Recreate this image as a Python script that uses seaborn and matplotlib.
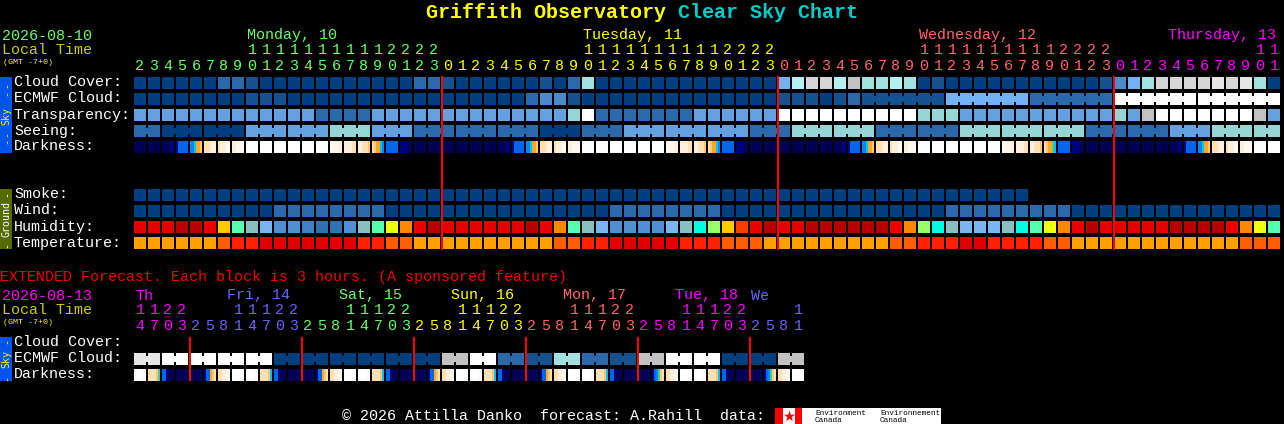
import numpy as np
import matplotlib
matplotlib.use("Agg")
import matplotlib.pyplot as plt
from matplotlib.colors import ListedColormap
from matplotlib.patches import Rectangle
import seaborn as sns

# ---------- data ----------
hours_main = ([h for h in range(2, 24)] + list(range(24)) + list(range(24)) + list(range(12)))
hours_ext = [14, 17, 20, 23] + [2, 5, 8, 11, 14, 17, 20, 23] * 5 + [2, 5, 8, 11]

cloud_cover = [0]*6 + [2, 2, 1] + [0]*11 + [2, 2, 1] + [0]*6 + [1, 0, 2, 7] + [0]*13 + \
    [5, 8, 10, 10, 8, 9, 7, 7, 8, 7, 0, 1] + [0]*11 + [1, 3, 5, 7, 10, 10, 10, 10, 11, 10, 11, 7, 0]
ecmwf_single = [0]*8 + [1, 1, 1] + [0]*17 + [2, 3, 3, 1] + [0]*14 + [1, 1, 1, 0, 1, 2]
ecmwf_six = [1, 5, 2, 12, 12]
transparency = [4]*13 + [2]*4 + [4]*14 + [6, 12] + [2]*7 + [4]*6 + [12]*10 + [6]*3 + [4]*11 + \
    [6, 4, 9] + [12]*7 + [9, 4]
seeing_groups = [2] + [3]*26 + [2]
seeing_values = [2, 0, 0, 4, 4, 6, 4, 2, 2, 2, 0, 2, 4, 4, 4, 2, 6, 6, 2, 2, 6, 6, 6, 2, 2, 4, 6, 6]
smoke = [0]*64
wind = [0]*10 + [2]*8 + [0]*16 + [2]*8 + [0]*16 + [2]*9 + [0]*15
humidity = [1, 1, 1, 0, 0, 2, 5, 8, 10, 11, 12, 12, 13, 14, 14, 12, 10, 8, 6, 4, 2, 0,
            1, 1, 1, 1, 1, 1, 0, 2, 4, 8, 10, 11, 12, 12, 12, 12, 11, 10, 9, 7, 5, 3, 2, 0,
            1, 1, 0, 0, 0, 0, 0, 0, 2, 4, 7, 9, 10, 11, 11, 11, 10, 9, 8, 6, 4, 2, 0,
            1, 1, 1, 1, 1, 0, 0, 0, 0, 2, 4, 6, 8]
temperature = [3]*6 + [2, 1, 1] + [0]*7 + [1, 1, 2, 2] + [3]*10 + [2, 2, 1, 1] + [0]*5 + [1]*3 + \
    [2]*3 + [3]*9 + [2, 2] + [1]*3 + [0, 0] + [1]*4 + [2, 2] + [3]*12 + [2]*3

day_dark = ["aaaaaa", "aaaaaa", "aaaabb", "bddddd", "eefoop", "qqqrrr", "qrrrss", "rrssss",
            "wwwwww", "wwwwww", "wwwwww", "wwwwww", "wwwwww", "wwwwww", "ssssrr", "rrrrqq",
            "rrqqqp", "qpoofe", "dddddd", "bbbbaa", "aaaaaa", "aaaaaa", "aaaaaa", "aaaaaa"]
day_dark_alt = day_dark[:17] + ["qpootf"] + day_dark[18:]
darkness_main = (day_dark + day_dark + day_dark_alt + day_dark)[:82]

ext_ecmwf = [11, 12, 12, 12, 12, 0, 0, 0, 0, 0, 0, 9, 12, 2, 1, 7, 2, 1, 9, 12, 12, 0, 0, 9]
ext_cycle = ["wwwwss", "qqqqpt", "ddbaaa", "aaaaaa", "aaaaaa", "bddopq", "qqrrss", "wwwwww"]
ext_cycle_2 = ["wwwwss", "qqqqpf", "ddbaaa", "aaaaaa", "aaaaaa", "bddopq", "qqrrss", "wwwwww"]
ext_cycle_3 = ["wwwwss", "qqqqpf", "ddbaaa", "aaaaaa", "aaaaaa", "bdetpq", "qqrrss", "wwwwww"]
darkness_ext = ext_cycle + ext_cycle_2 + ext_cycle_2 + ext_cycle_2 + ext_cycle_3 + ext_cycle_3

sky_palette = ["#003f7f", "#15528f", "#2a69ab", "#4a8bcb", "#63a1e1", "#72b2f2", "#95d5d5",
               "#a3e0e0", "#b4f2f2", "#c2c2c2", "#d5d5d5", "#e6e6e6", "#ffffff"]
hum_palette = ["#b70000", "#e60000", "#ee0000", "#ff3c00", "#ff8800", "#ffcc00", "#eeff11",
               "#99ff66", "#55ffb0", "#00ffe0", "#88c0c0", "#7ab5f0", "#4f90d5", "#4080c5", "#3070b0"]
temp_palette = ["#e00000", "#ff2000", "#ff5d00", "#ffa000"]
dark_letters = "abcdeftopqrsw"
dark_palette = ["#000055", "#00007f", "#0040c0", "#0066ee", "#0088f0", "#00c0ff", "#40d0a0",
                "#ffa820", "#ffc870", "#ffe0b0", "#fff0dc", "#fff8f0", "#ffffff"]

row_labels_sky = ["Cloud Cover:", "ECMWF Cloud:", "Transparency:", "Seeing:", "Darkness:"]
row_labels_ground = ["Smoke:", "Wind:", "Humidity:", "Temperature:"]
row_labels_ext = ["Cloud Cover:", "ECMWF Cloud:", "Darkness:"]
day_heads_main = [(8, "Monday, 10"), (32, "Tuesday, 11"), (56, "Wednesday, 12")]
day_heads_ext = [(0, "Th", "#ff00ff"), (6.57, "Fri, 14", "#6666ff"), (14.57, "Sat, 15", "#66ff66"),
                 (22.57, "Sun, 16", "#ffff00"), (30.57, "Mon, 17", "#ff6666"),
                 (38.57, "Tue, 18", "#ff00ff"), (44, "We", "#6666ff")]

# ---------- layout ----------
W, H = 1284, 424
X0, PITCH, CELL = 134, 14, 12
MONO = "Liberation Mono"
GREEN, YELLOW, SALMON, MAGENTA, LILAC = "#66ff66", "#ffff00", "#ff6666", "#ff00ff", "#6666ff"
PT = 72 / 100

sns.set_theme(style="white")
plt.rcParams["font.family"] = [MONO, "DejaVu Sans"]
fig = plt.figure(figsize=(W / 100, H / 100), dpi=100, facecolor="black")


def strip(values, y, palette, links=None, sub=1):
    """One chart row as a one-line heatmap; black separators cut it into blocks."""
    arr = np.array(values, dtype=float)[None, :]
    n = arr.shape[1] // sub
    ax = fig.add_axes([X0 / W, 1 - (y + CELL) / H, n * PITCH / W, CELL / H])
    sns.heatmap(arr, ax=ax, cmap=ListedColormap(palette), vmin=-0.5, vmax=len(palette) - 0.5,
                cbar=False, xticklabels=False, yticklabels=False)
    for k in range(n):
        x = (k + 1) * sub - sub / PITCH
        if links is not None and k < len(links) and links[k]:
            ax.vlines(x, 0, 0.25, color="black", lw=2 * PT)
            ax.vlines(x, 0.75, 1, color="black", lw=2 * PT)
        else:
            ax.vlines(x, 0, 1, color="black", lw=2 * PT)
    ax.set_xlim(0, n * sub)
    ax.set_ylim(1, 0)
    ax.axis("off")
    return ax


def group_links(lengths):
    out = []
    for g in lengths:
        out += [True] * (g - 1) + [False]
    return out


def dark_row(blocks):
    vals = []
    for b in blocks:
        codes = [dark_letters.index(c) for c in b]
        vals += codes + [codes[-1]]
    return vals


# sky
strip(cloud_cover, 77, sky_palette)
ecmwf_main = ecmwf_single + list(np.repeat(ecmwf_six, 6))
strip(ecmwf_main, 93, sky_palette, links=group_links([1] * len(ecmwf_single) + [6] * len(ecmwf_six)))
strip(transparency, 109, sky_palette)
seeing = list(np.repeat(seeing_values, seeing_groups))
strip(seeing, 125, sky_palette, links=group_links(seeing_groups))
strip(dark_row(darkness_main), 141, dark_palette, sub=7)
# ground
strip(smoke, 189, sky_palette)
strip(wind, 205, sky_palette)
strip(humidity, 221, hum_palette)
strip(temperature, 237, temp_palette)
# extended
strip(list(np.repeat(ext_ecmwf, 2)), 353, sky_palette, links=group_links([2] * len(ext_ecmwf)))
strip(dark_row(darkness_ext), 369, dark_palette, sub=7)

# page overlay in pixel coordinates
page = fig.add_axes([0, 0, 1, 1], zorder=10)
page.set_xlim(0, W)
page.set_ylim(H, 0)
page.axis("off")
page.patch.set_alpha(0)


def txt(x, y, s, color="white", size=10.8, ha="left", **kw):
    kw.setdefault("family", [MONO, "DejaVu Sans"])
    page.text(x, y - 1, s, color=color, fontsize=size, ha=ha, va="center_baseline", **kw)


def col_x(c):
    return X0 + PITCH * c


# title
txt(426, 12, "Griffith Observatory", color="#ffff00", size=14.4, weight="bold")
txt(678, 12, "Clear Sky Chart", color="#00cccc", size=14.4, weight="bold")

# main header
txt(2, 35, "2026-08-10", color=GREEN)
txt(2, 50, "Local Time", color="#cccc00")
txt(3, 62, "(GMT -7+0)", color="#ffff00", size=6)
for (c, s), col in zip(day_heads_main, [GREEN, YELLOW, SALMON]):
    txt(col_x(c) + 1, 35, s, color=col)
txt(1276, 35, "Thursday, 13", color=MAGENTA, ha="right")
day_color = [GREEN] * 22 + [YELLOW] * 24 + [SALMON] * 24 + [MAGENTA] * 12
for c, (h, col) in enumerate(zip(hours_main, day_color)):
    if h >= 10:
        txt(col_x(c) + 6, 50, str(h // 10), color=col, ha="center")
    txt(col_x(c) + 6, 65, str(h % 10), color=col, ha="center")

for i, s in enumerate(row_labels_sky):
    txt(14, 82 + 16 * i, s)
for i, s in enumerate(row_labels_ground):
    txt(14, 194 + 16 * i, s)

# extended header
txt(0, 276, "EXTENDED Forecast. Each block is 3 hours. (A sponsored feature)", color="#f00000")
txt(2, 295, "2026-08-13", color=MAGENTA)
txt(2, 310, "Local Time", color="#cccc00")
txt(3, 322, "(GMT -7+0)", color="#ffff00", size=6)
for c, s, col in day_heads_ext:
    txt(col_x(c) + 1, 295, s, color=col)
ext_color = [MAGENTA] * 4 + [LILAC] * 8 + [GREEN] * 8 + [YELLOW] * 8 + [SALMON] * 8 + [MAGENTA] * 8 + [LILAC] * 4
for c, (h, col) in enumerate(zip(hours_ext, ext_color)):
    if h >= 10:
        txt(col_x(c) + 6, 310, str(h // 10), color=col, ha="center")
    txt(col_x(c) + 6, 325, str(h % 10), color=col, ha="center")
for i, s in enumerate(row_labels_ext):
    txt(14, 342 + 16 * i, s)

# side bars
BLUE, OLIVE = "#0055ee", "#556b00"
for y0, y1, col in [(77, 153, BLUE), (189, 249, OLIVE), (337, 381, BLUE)]:
    page.add_patch(Rectangle((0, y0), 12, y1 - y0, color=col, lw=0))
for y, s, col in [(85.5, "-", "#ffee00"), (93.5, "-", "#ffee00"), (116, "Sky", "#ffee00"),
                  (134, "-", "#ffee00"), (141.5, "-", "#ffee00"),
                  (194, "-", "white"), (219, "Ground", "white"), (245, "-", "white"),
                  (341, "-", "#ffee00"), (359, "Sky", "#ffee00"), (378, "-", "#ffee00")]:
    page.text(6, y, s, color=col, fontsize=7.2, rotation=90, ha="center", va="center",
              family="DejaVu Sans Mono")

# day boundaries
for c in (22, 46, 70):
    page.add_patch(Rectangle((col_x(c) - 1, 76), 2, 174, color="#ff0000", lw=0))
for c in (4, 12, 20, 28, 36, 44):
    page.add_patch(Rectangle((col_x(c) - 1, 337), 2, 44, color="#ff0000", lw=0))

# footer
txt(342, 416, "\u00a9 2026 Attilla Danko  forecast: A.Rahill  data:")
page.add_patch(Rectangle((775, 408), 166, 16, color="white", lw=0))
page.add_patch(Rectangle((775, 408), 7.5, 16, color="#ff0000", lw=0))
page.add_patch(Rectangle((794.5, 408), 7.5, 16, color="#ff0000", lw=0))
page.scatter([788.5], [416], marker="*", s=70, color="#ff0000", linewidths=0)
for x, a in [(815, "Environment"), (880, "Environnement")]:
    page.text(x, 413.5, a, color="black", fontsize=5.6, va="center", family=MONO)
    page.text(x, 421, "Canada", color="black", fontsize=5.6, va="center", family=MONO)

fig.savefig("out.png", dpi=100, facecolor="black")
